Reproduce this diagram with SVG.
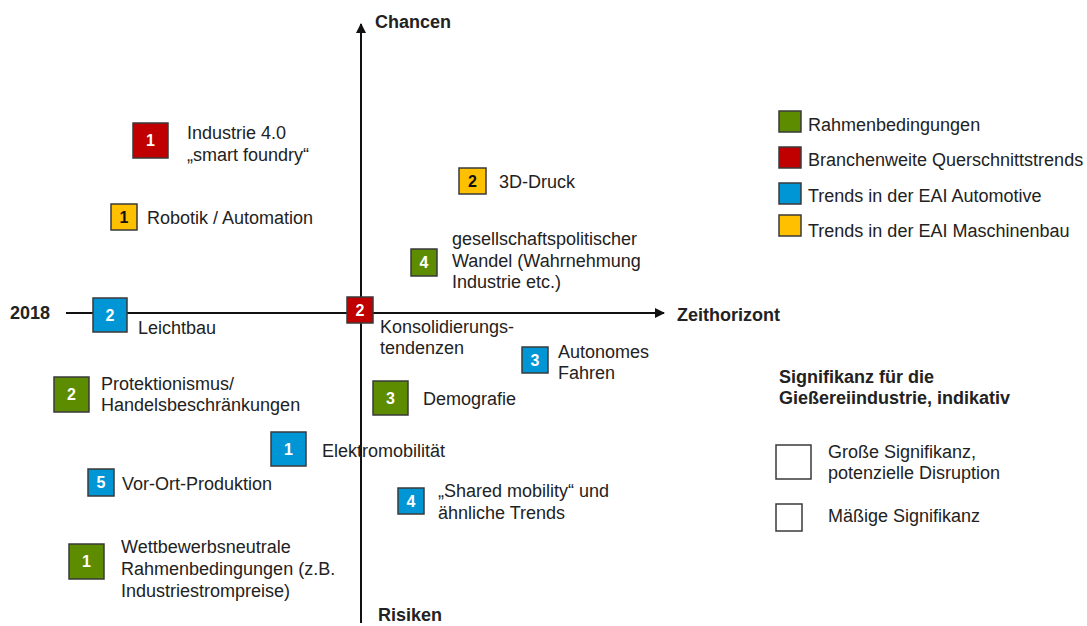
<svg xmlns="http://www.w3.org/2000/svg" width="1087" height="626" viewBox="0 0 1087 626">
<style>
text{font-family:"Liberation Sans",Arial,sans-serif;fill:#222;font-size:18px}
.b{font-weight:bold}
.n{font-weight:bold;font-size:16px;fill:#fff;text-anchor:middle}
.nk{font-weight:bold;font-size:16px;fill:#111;text-anchor:middle}
.sq{stroke:#3a3a3a;stroke-width:1.5}
.g{fill:#5e8c00}.r{fill:#c00000}.bl{fill:#0096d6}.y{fill:#ffc000}
.ax{stroke:#111;stroke-width:2;fill:none}
.w{fill:#fff}
</style>
<defs>
<marker id="ah" viewBox="0 0 10 10" refX="9" refY="5" markerWidth="5" markerHeight="5" orient="auto">
<path d="M0,0L10,5L0,10z" fill="#111"/>
</marker>
</defs>
<g id="connectors">
<line class="ax" x1="66" y1="313" x2="664" y2="313" marker-end="url(#ah)"/>
<line class="ax" x1="361" y1="623" x2="361" y2="24" marker-end="url(#ah)"/>
</g>
<g id="axis-labels">
<text class="b" x="375" y="28">Chancen</text>
<text class="b" x="677" y="321">Zeithorizont</text>
<text class="b" x="10" y="319">2018</text>
<text class="b" x="378" y="621">Risiken</text>
</g>
<g id="industrie40">
<rect class="sq r" x="133" y="123" width="35" height="35"/>
<text class="n" x="150.5" y="146">1</text>
<text x="187" y="139">Industrie 4.0</text>
<text x="187" y="161">„smart foundry“</text>
</g>
<g id="robotik">
<rect class="sq y" x="111" y="204" width="26" height="26"/>
<text class="nk" x="124" y="223">1</text>
<text x="147" y="224">Robotik / Automation</text>
</g>
<g id="leichtbau">
<rect class="sq bl" x="93" y="298" width="34" height="34"/>
<text class="n" x="110" y="321">2</text>
<text x="138" y="334">Leichtbau</text>
</g>
<g id="konsolidierung">
<rect class="sq r" x="347" y="297" width="26" height="26"/>
<text class="n" x="360" y="316">2</text>
<text x="380" y="333">Konsolidierungs-</text>
<text x="380" y="354">tendenzen</text>
</g>
<g id="druck3d">
<rect class="sq y" x="459" y="168" width="27" height="26"/>
<text class="nk" x="472.5" y="187">2</text>
<text x="499" y="188">3D-Druck</text>
</g>
<g id="wandel">
<rect class="sq g" x="411" y="249" width="26" height="27"/>
<text class="n" x="424" y="268">4</text>
<text x="452" y="245">gesellschaftspolitischer</text>
<text x="452" y="267">Wandel (Wahrnehmung</text>
<text x="452" y="288">Industrie etc.)</text>
</g>
<g id="autonomes">
<rect class="sq bl" x="522" y="347" width="26" height="26"/>
<text class="n" x="535" y="366">3</text>
<text x="558" y="358">Autonomes</text>
<text x="558" y="379">Fahren</text>
</g>
<g id="demografie">
<rect class="sq g" x="373" y="381" width="35" height="34"/>
<text class="n" x="390.5" y="404">3</text>
<text x="423" y="405">Demografie</text>
</g>
<g id="elektromobilitaet">
<rect class="sq bl" x="271" y="432" width="35" height="34"/>
<text class="n" x="288.5" y="455">1</text>
<text x="322" y="457">Elektromobilität</text>
</g>
<g id="shared">
<rect class="sq bl" x="398" y="488" width="26" height="26"/>
<text class="n" x="411" y="507">4</text>
<text x="438" y="497">„Shared mobility“ und</text>
<text x="438" y="519">ähnliche Trends</text>
</g>
<g id="protektionismus">
<rect class="sq g" x="54" y="377" width="35" height="35"/>
<text class="n" x="71.5" y="400">2</text>
<text x="101" y="390">Protektionismus/</text>
<text x="101" y="411">Handelsbeschränkungen</text>
</g>
<g id="vorort">
<rect class="sq bl" x="88" y="469" width="26" height="27"/>
<text class="n" x="101" y="488">5</text>
<text x="122" y="490">Vor-Ort-Produktion</text>
</g>
<g id="wettbewerb">
<rect class="sq g" x="69" y="544" width="35" height="35"/>
<text class="n" x="86.5" y="567">1</text>
<text x="121" y="553">Wettbewerbsneutrale</text>
<text x="121" y="575">Rahmenbedingungen (z.B.</text>
<text x="121" y="597">Industriestrompreise)</text>
</g>
<g id="legend-colors">
<rect class="sq g" x="779" y="111" width="22" height="21"/>
<text x="808" y="131">Rahmenbedingungen</text>
<rect class="sq r" x="779" y="147" width="22" height="21"/>
<text x="808" y="166">Branchenweite Querschnittstrends</text>
<rect class="sq bl" x="779" y="183" width="22" height="21"/>
<text x="808" y="202">Trends in der EAI Automotive</text>
<rect class="sq y" x="779" y="215" width="22" height="21"/>
<text x="808" y="237">Trends in der EAI Maschinenbau</text>
</g>
<g id="legend-significance">
<text class="b" x="779" y="383">Signifikanz für die</text>
<text class="b" x="779" y="404">Gießereiindustrie, indikativ</text>
<rect class="sq w" x="776" y="445" width="35" height="34"/>
<text x="828" y="458">Große Signifikanz,</text>
<text x="828" y="479">potenzielle Disruption</text>
<rect class="sq w" x="776" y="504" width="26" height="27"/>
<text x="828" y="522">Mäßige Signifikanz</text>
</g>
</svg>
